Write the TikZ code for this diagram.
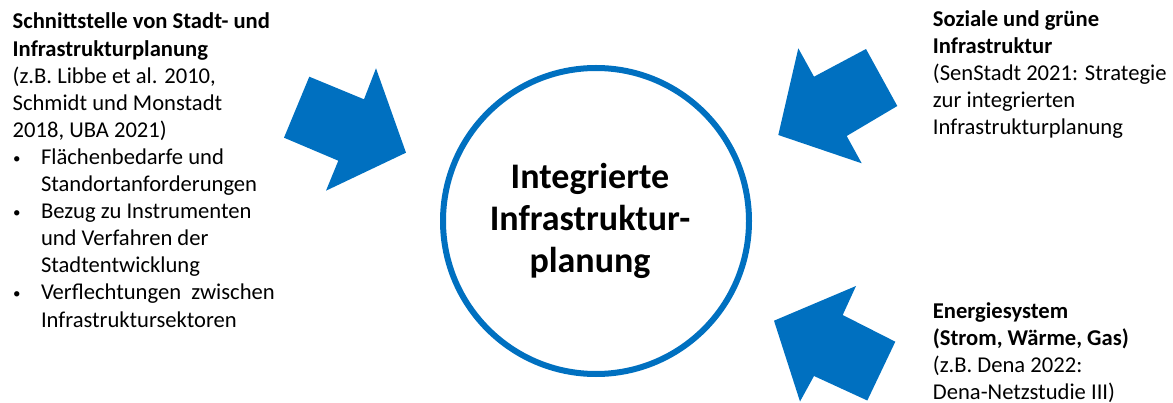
\documentclass[tikz,border=0pt]{standalone}
\usepackage{fontspec}
\setmainfont{Carlito}
\definecolor{pblue}{RGB}{0,112,192}
\newcommand{\bitem}[1]{\makebox[28.3pt][l]{\hspace*{0.5pt}\raisebox{1pt}{\fontsize{15}{15}\selectfont•}}#1}
\newcommand{\bcont}[1]{\hspace*{28.3pt}#1}
\tikzset{
  txt/.style={anchor=base west, inner sep=0pt, align=left, font=\fontsize{22.6}{27.1}\selectfont},
  center/.style={anchor=base, inner sep=0pt, align=center, font=\fontsize{36}{42}\selectfont\bfseries},
  bigarrow/.style={fill=pblue, draw=none},
  ring/.style={draw=pblue, line width=6pt, fill=white}
}
\begin{document}
\begin{tikzpicture}[x=1pt,y=-1pt]
\useasboundingbox (0,0) rectangle (1173,403);
% central circle
\node[ring, circle, minimum size=306pt, inner sep=0pt] (c) at (596,221) {};
\node[center] (ct) at (590,273) {Integrierte\\Infrastruktur-\\planung};
% arrows
\fill[bigarrow] (309.3,76.7) -- (364,99.3) -- (376,68.3) -- (406,152.7) -- (326,190.7) -- (338.3,160.7) -- (284,137.7) -- cycle;
\fill[bigarrow] (778.3,135) -- (798.3,48.3) -- (814,76.7) -- (866,49) -- (897.3,106) -- (846.7,136) -- (861.7,163.3) -- cycle;
\fill[bigarrow] (774,320.7) -- (856,286) -- (842.7,315) -- (895.3,341.7) -- (867.3,400.5) -- (814,376) -- (800,401.5) -- cycle;
% texts
\node[txt] (l) at (12.5,327) {\textbf{Schnittstelle von Stadt- und}\\\textbf{Infrastrukturplanung}\\(z.B. Libbe et al. 2010,\\Schmidt und Monstadt\\2018, UBA 2021)\\
\bitem{Flächenbedarfe und}\\\bcont{Standortanforderungen}\\
\bitem{Bezug zu Instrumenten}\\\bcont{und Verfahren der}\\\bcont{Stadtentwicklung}\\
\bitem{Verflechtungen\ \ zwischen}\\\bcont{Infrastruktursektoren}};
\node[txt] (r1) at (932.7,134.5) {\textbf{Soziale und grüne}\\\textbf{Infrastruktur}\\(SenStadt 2021: Strategie\\zur integrierten\\Infrastrukturplanung};
\node[txt] (r2) at (932.7,399.5) {\textbf{Energiesystem}\\\textbf{(Strom, Wärme, Gas)}\\(z.B. Dena 2022:\\Dena-Netzstudie III)};
\end{tikzpicture}
\end{document}
